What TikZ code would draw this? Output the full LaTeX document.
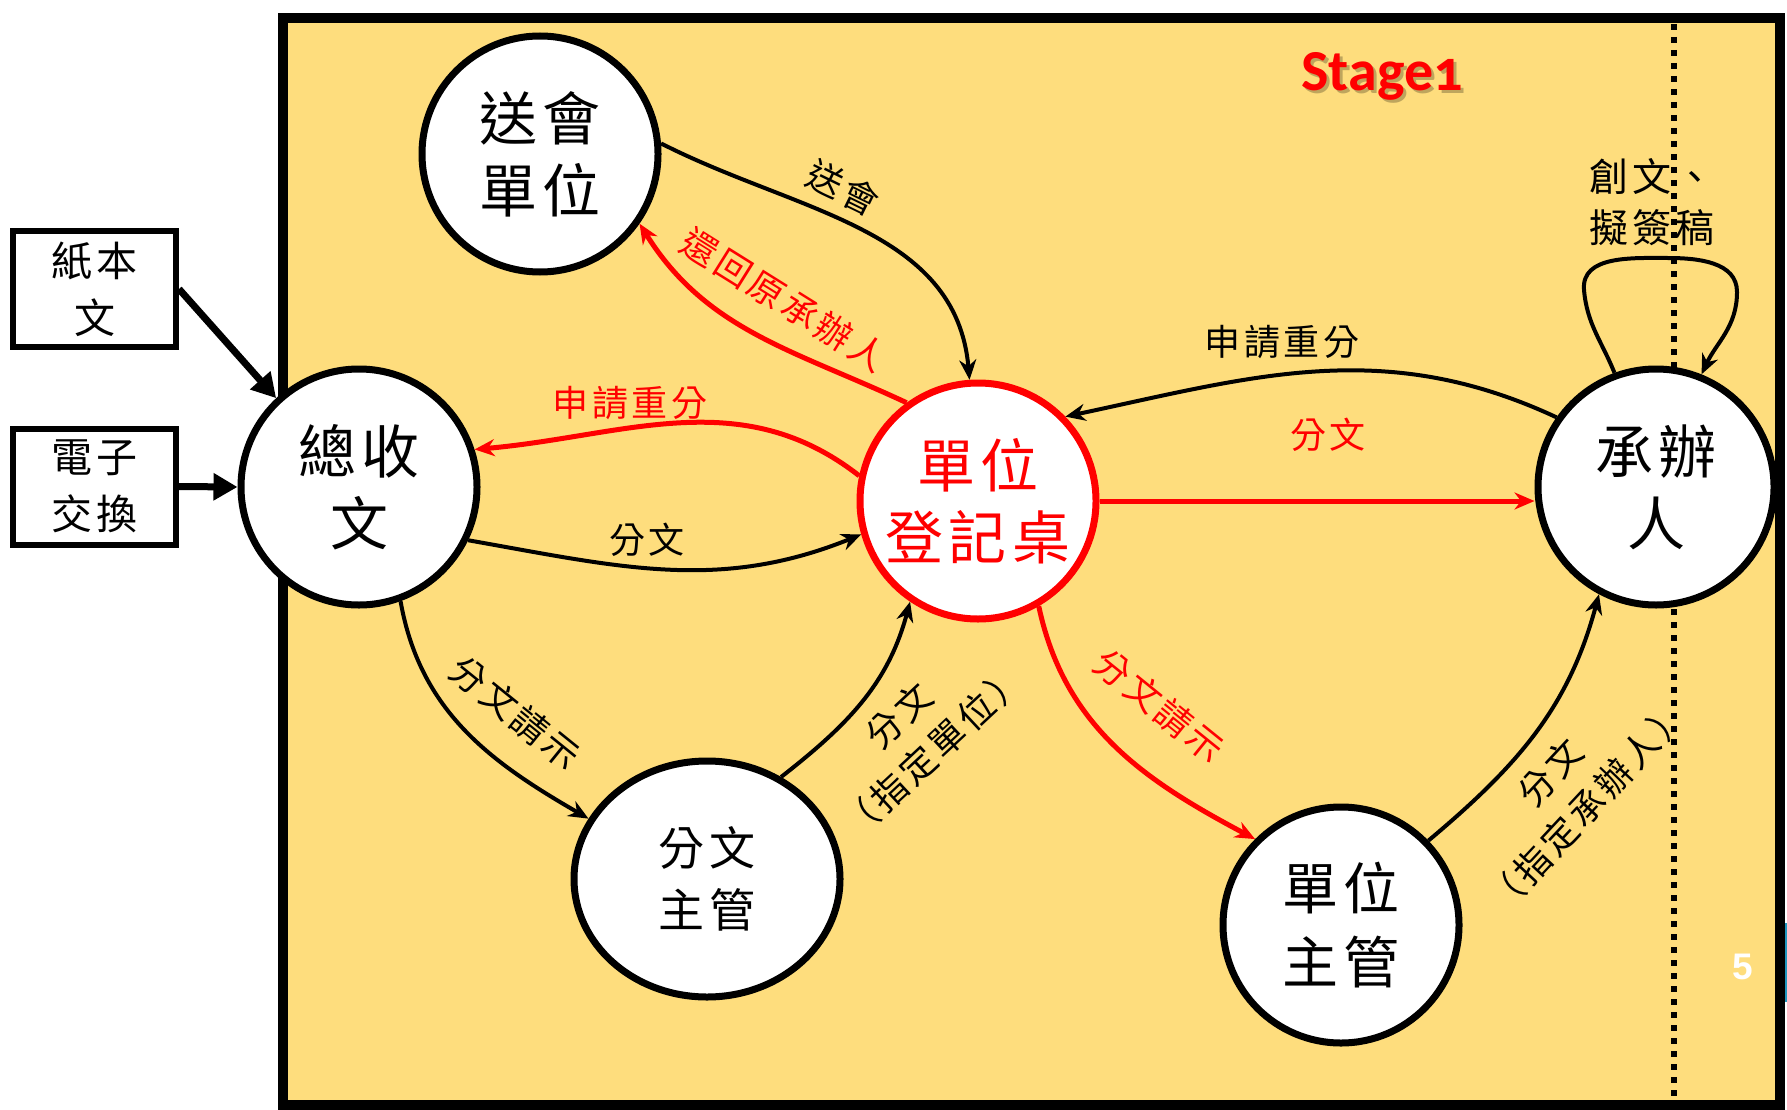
\documentclass[tikz,border=0pt]{standalone}
\usepackage{fontspec}
\usetikzlibrary{arrows.meta,shapes.geometric}
\setmainfont{Liberation Sans}
\newfontfamily\cjk{Noto Sans CJK TC}[LetterSpace=10]
\newfontfamily\stagefont{Carlito}[Numbers=OldStyle]
\definecolor{bgyellow}{RGB}{254,221,125}
\definecolor{myred}{RGB}{255,0,0}
\definecolor{stripblue}{RGB}{30,150,190}
\tikzset{
  state/.style={circle, draw=black, line width=7pt, fill=white, minimum size=236pt, inner sep=0pt, align=center, font=\cjk\fontsize{58}{72}\selectfont},
  srcbox/.style={rectangle, draw=black, line width=6pt, fill=white, minimum width=163pt, minimum height=116pt, inner sep=0pt, align=center, font=\cjk\fontsize{41}{57}\selectfont},
  blk/.style={draw=black, line width=4pt, -{Stealth[length=20pt,width=17pt]}},
  rd/.style={draw=myred, line width=5pt, -{Stealth[length=20pt,width=17pt]}},
  feed/.style={draw=black, line width=7pt, -{Triangle[length=24pt,width=26pt]}},
  lbl/.style={font=\cjk\fontsize{36}{50}\selectfont, inner sep=0pt, align=center},
  rlbl/.style={lbl, text=myred},
}
\begin{document}
\begin{tikzpicture}[x=1pt,y=1pt]
\useasboundingbox (0,0) rectangle (1787,-1110);
\fill[white] (0,0) rectangle (1787,-1110);
% frame
\draw[line width=10pt, fill=bgyellow] (283,-18) rectangle (1780,-1105);
\fill[stripblue] (1785,-923) rectangle (1787,-1002);
\draw[line width=6pt, dash pattern=on 6pt off 7pt] (1674,-24) -- (1674,-1100);
% title
\node[font=\stagefont\bfseries\fontsize{58}{70}\selectfont, text=black, opacity=0.25] (stageshadow) at (1385,-79) {Stage1};
\node[font=\stagefont\bfseries\fontsize{58}{70}\selectfont, text=myred] (stage) at (1382,-76) {Stage1};
\node[font=\bfseries\fontsize{37}{40}\selectfont, text=white] (pagenum) at (1743,-967) {5};
% source boxes
\node[srcbox] (zbw) at (94.5,-289) {紙本\\文};
\node[srcbox] (dzjh) at (94.5,-486.5) {電子\\交換};
% states
\node[state] (shw) at (540,-154) {送會\\單位};
\node[state] (zsw) at (359,-487) {總收\\文};
\node[state, draw=myred, text=myred] (djz) at (978,-501) {單位\\登記桌};
\node[state] (cbr) at (1656,-487) {承辦\\人};
\node[state, ellipse, minimum width=266pt, minimum height=236pt, font=\cjk\fontsize{46}{62}\selectfont] (fwzg) at (707,-879) {分文\\主管};
\node[state, font=\cjk\fontsize{56}{74}\selectfont] (dwzg) at (1341,-925) {單位\\主管};
% feeds
\draw[feed] (zbw.east) -- (zsw.133);
\draw[feed] (dzjh.east) -- (zsw.west);
% edges
\draw[blk] (shw.5) to[out=-27,in=95] (djz.94);
\draw[rd] (djz.126) to[out=155,in=-58] (shw.-35);
\draw[rd] (djz.168) to[out=142,in=5] (zsw.18);
\draw[blk] (zsw.-26) to[out=-10,in=-158] (djz.-164);
\draw[blk] (zsw.-70) to[out=-80,in=150] (fwzg.153);
\draw[blk] (fwzg.54) to[out=38,in=-105] (djz.-124);
\draw[rd] (djz.-60) to[out=-78,in=152] (dwzg.135);
\draw[blk] (dwzg.44) to[out=40,in=-105] (cbr.-118);
\draw[blk] (cbr.145) to[out=155,in=12] (djz.44);
\draw[rd] (djz.east) -- (djz.east -| cbr.west);
\draw[blk] (cbr.110) to[out=112,in=-85] (1584,-290) to[out=95,in=180] (1668,-258) to[out=0,in=90] (1737,-292) to[out=-90,in=65] (cbr.68);
% labels
\node[lbl, rotate=-26] (l1) at (843,-188) {送會};
\node[rlbl, rotate=-32] (l2) at (784,-300) {還回原承辦人};
\node[rlbl] (l3) at (630,-403) {申請重分};
\node[lbl] (l4) at (647,-540) {分文};
\node[lbl, rotate=-39] (l5) at (515,-713) {分文請示};
\node[lbl, rotate=43] (l6) at (916,-734) {分文\\（指定單位）};
\node[rlbl, rotate=-39] (l7) at (1159,-706) {分文請示};
\node[lbl, rotate=47] (l8) at (1569,-790) {分文\\（指定承辦人）};
\node[lbl] (l9) at (1282,-342) {申請重分};
\node[rlbl] (l10) at (1328,-435) {分文};
\node[lbl, align=left, font=\cjk\fontsize{39}{51}\selectfont] (l11) at (1652,-202) {創文、\\擬簽稿};
\end{tikzpicture}
\end{document}
